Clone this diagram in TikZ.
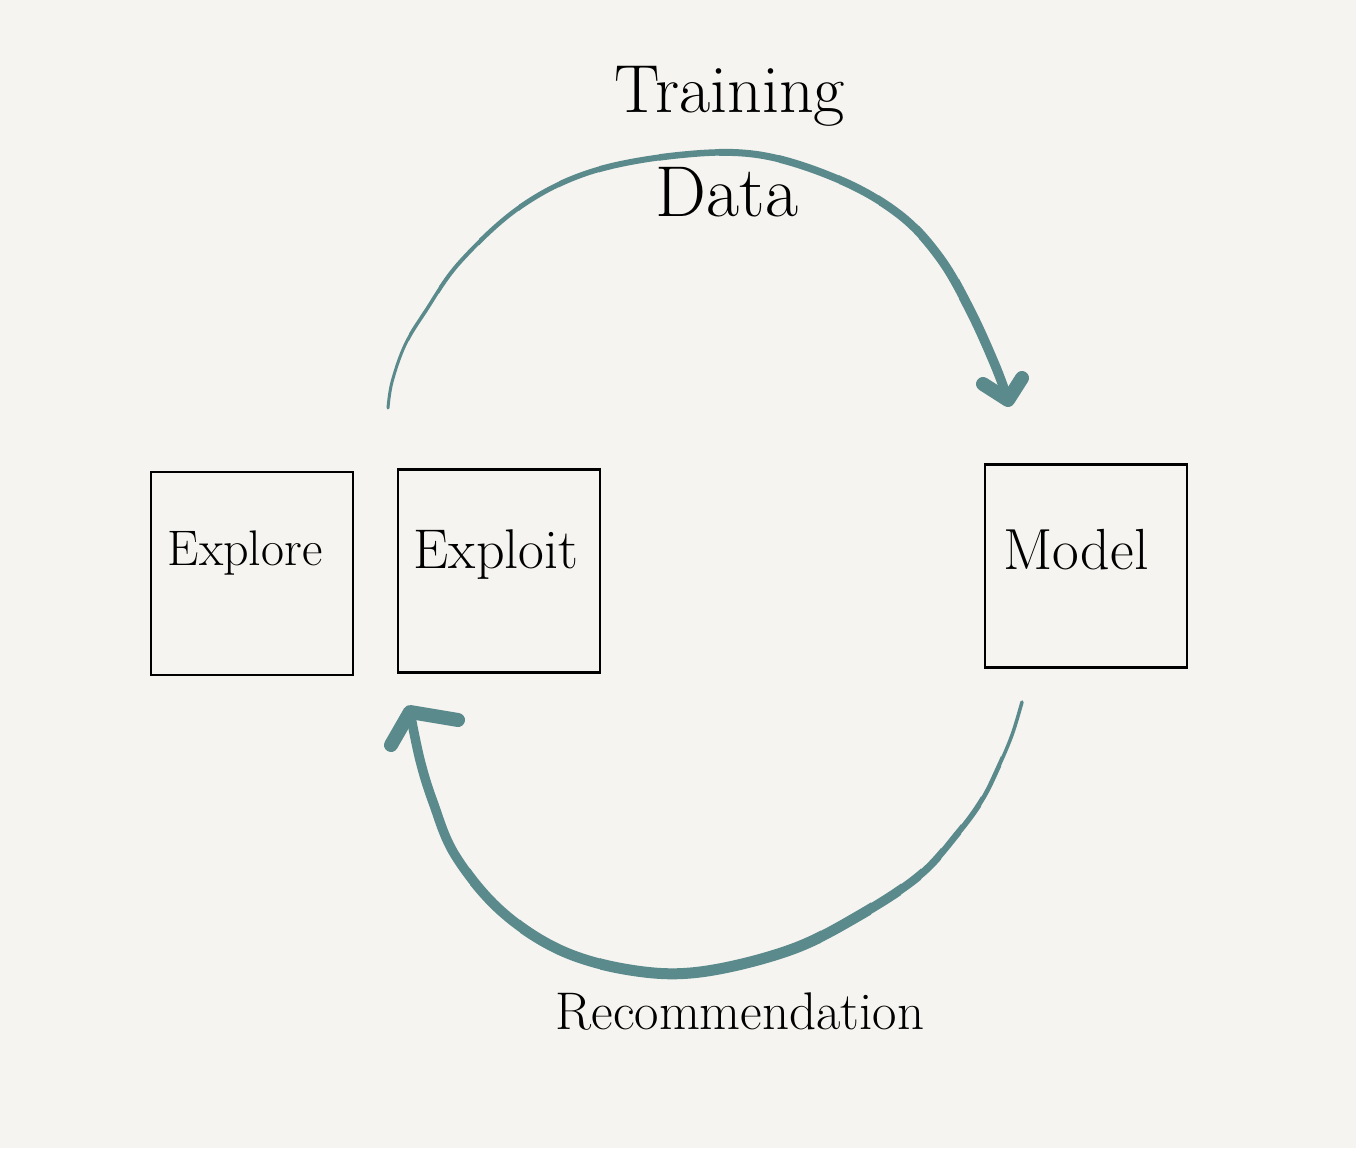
\documentclass[tikz,border=0pt]{standalone}
\begin{document}
\begin{tikzpicture}[x=1pt,y=-1pt,
  bg/.style={fill=paper,draw=none},
  box/.style={draw=black,line width=2.8pt,minimum width=202pt,minimum height=203pt,inner sep=0pt},
  lbl/.style={text=black,inner sep=0pt},
  flow/.style={draw=teal2,line cap=round,line join=round},
  head/.style={draw=teal2,line width=14pt,line cap=round,line join=round}]
\definecolor{paper}{HTML}{F5F4F0}
\definecolor{teal2}{HTML}{5B8A8C}
\path[bg] (0,0) rectangle (1356,1148);
\useasboundingbox (0,0) rectangle (1356,1148);
% boxes
\node[box] (explore) at (252,573.5) {};
\node[box] (exploit) at (499,571) {};
\node[box] (model) at (1086,566) {};
\node[lbl,font=\fontsize{50}{54}\selectfont] (texplore) at (245,553) {Explore};
\node[lbl,font=\fontsize{56}{60}\selectfont] (texploit) at (496,555) {Exploit};
\node[lbl,font=\fontsize{58}{62}\selectfont] (tmodel) at (1076,550) {Model};
\node[lbl,font=\fontsize{68}{72}\selectfont] (training) at (730,96) {Training};
\node[lbl,font=\fontsize{72}{76}\selectfont] (data) at (727,192) {Data};
\node[lbl,font=\fontsize{53}{57}\selectfont] (recomm) at (740,1012) {Recommendation};
% upper arc: Exploit -> Model (tapering stroke)
\coordinate (u0) at (388,408);
\coordinate (u1) at (1008,400);
\def\upperarc{plot[smooth,tension=0.6] coordinates {(u0) (392,382) (405,345) (425,312) (460,262) (520,207) (590,172) (680,155) (760,155) (840,180) (900,215) (940,258) (970,310) (995,365) (u1)}}
\foreach \a/\b/\w in {0/410/3,409/440/3.5,439/480/4,479/520/4.5,519/560/5,559/600/5.5,599/660/6,659/720/6.5,719/780/7,779/840/7.5,839/880/8,879/920/8.5,919/960/9,959/1356/9.5}{
  \begin{scope}\clip (\a,0) rectangle (\b,1148); \draw[flow,line width=\w pt] \upperarc; \end{scope}}
\draw[head] (983,384) -- (u1) -- (1022,378);
% lower arc: Model -> Exploit (tapering stroke)
\coordinate (l0) at (1022,702);
\coordinate (l1) at (410,712);
\def\lowerarc{plot[smooth,tension=0.6] coordinates {(l0) (1012,735) (998,768) (982,800) (958,833) (920,875) (860,915) (790,950) (700,972) (630,970) (560,950) (500,910) (455,855) (433,802) (420,760) (l1)}}
\foreach \a/\b/\w in {1000/1356/3.5,980/1001/4.5,960/981/5.5,940/961/6.5,920/941/7.5,900/921/8.5,870/901/9.5,820/871/10.5,600/821/11,520/601/10.5,470/521/10,0/471/9.5}{
  \begin{scope}\clip (\a,0) rectangle (\b,1148); \draw[flow,line width=\w pt] \lowerarc; \end{scope}}
\draw[head] (391,745) -- (l1) -- (458,720);
\end{tikzpicture}
\end{document}
